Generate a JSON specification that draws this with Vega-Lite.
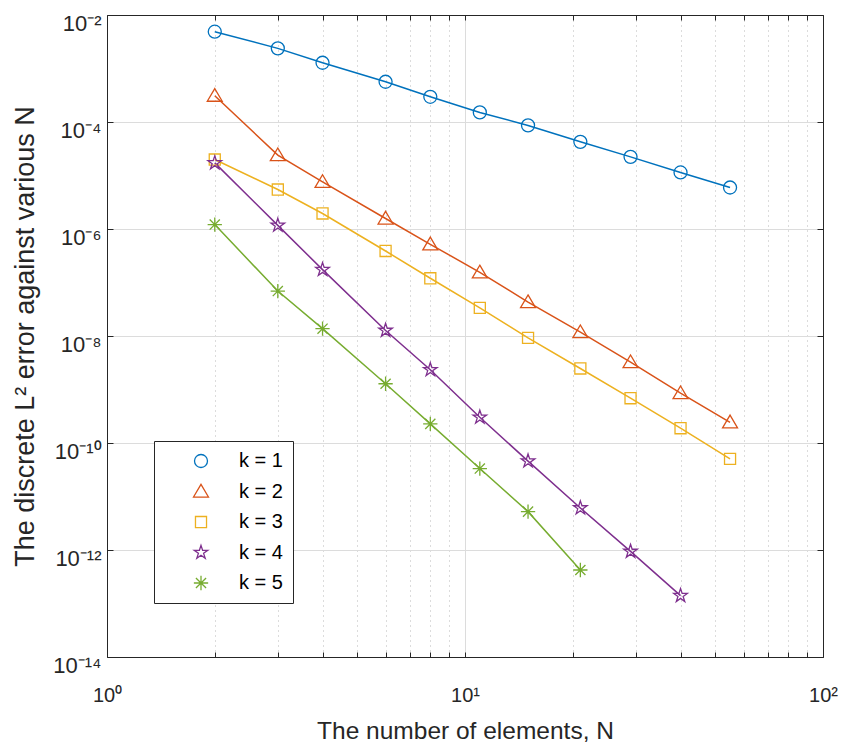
{
  "$schema": "https://vega.github.io/schema/vega-lite/v6.json",
  "width": 716,
  "height": 642,
  "autosize": {"type": "none"},
  "padding": {"left": 107, "top": 15, "right": 19, "bottom": 89},
  "background": "white",
  "config": {
    "view": {"stroke": null},
    "font": "Liberation Sans",
    "axis": {"domainColor": "#262626", "domainWidth": 1, "tickColor": "#262626", "tickWidth": 1, "labelColor": "#262626", "titleColor": "#262626", "labelFont": "Liberation Sans", "titleFont": "Liberation Sans", "titleFontWeight": "normal"}
  },
  "data": {
    "values": [
      {"k": "k = 1", "N": 2, "err": 4.87e-3},
      {"k": "k = 1", "N": 3, "err": 2.38e-3},
      {"k": "k = 1", "N": 4, "err": 1.28e-3},
      {"k": "k = 1", "N": 6, "err": 5.65e-4},
      {"k": "k = 1", "N": 8, "err": 2.96e-4},
      {"k": "k = 1", "N": 11, "err": 1.51e-4},
      {"k": "k = 1", "N": 15, "err": 8.63e-5},
      {"k": "k = 1", "N": 21, "err": 4.26e-5},
      {"k": "k = 1", "N": 29, "err": 2.23e-5},
      {"k": "k = 1", "N": 40, "err": 1.14e-5},
      {"k": "k = 1", "N": 55, "err": 5.96e-6},
      {"k": "k = 2", "N": 2, "err": 3.1e-4},
      {"k": "k = 2", "N": 3, "err": 2.4e-5},
      {"k": "k = 2", "N": 4, "err": 7.59e-6},
      {"k": "k = 2", "N": 6, "err": 1.57e-6},
      {"k": "k = 2", "N": 8, "err": 5.18e-7},
      {"k": "k = 2", "N": 11, "err": 1.55e-7},
      {"k": "k = 2", "N": 15, "err": 4.31e-8},
      {"k": "k = 2", "N": 21, "err": 1.18e-8},
      {"k": "k = 2", "N": 29, "err": 3.24e-9},
      {"k": "k = 2", "N": 40, "err": 8.53e-10},
      {"k": "k = 2", "N": 55, "err": 2.44e-10},
      {"k": "k = 3", "N": 2, "err": 1.99e-5},
      {"k": "k = 3", "N": 3, "err": 5.47e-6},
      {"k": "k = 3", "N": 4, "err": 1.95e-6},
      {"k": "k = 3", "N": 6, "err": 3.88e-7},
      {"k": "k = 3", "N": 8, "err": 1.2e-7},
      {"k": "k = 3", "N": 11, "err": 3.36e-8},
      {"k": "k = 3", "N": 15, "err": 9.22e-9},
      {"k": "k = 3", "N": 21, "err": 2.47e-9},
      {"k": "k = 3", "N": 29, "err": 6.87e-10},
      {"k": "k = 3", "N": 40, "err": 1.89e-10},
      {"k": "k = 3", "N": 55, "err": 5.05e-11},
      {"k": "k = 4", "N": 2, "err": 1.72e-5},
      {"k": "k = 4", "N": 3, "err": 1.17e-6},
      {"k": "k = 4", "N": 4, "err": 1.74e-7},
      {"k": "k = 4", "N": 6, "err": 1.27e-8},
      {"k": "k = 4", "N": 8, "err": 2.34e-9},
      {"k": "k = 4", "N": 11, "err": 3.03e-10},
      {"k": "k = 4", "N": 15, "err": 4.59e-11},
      {"k": "k = 4", "N": 21, "err": 6.1e-12},
      {"k": "k = 4", "N": 29, "err": 9.4e-13},
      {"k": "k = 4", "N": 40, "err": 1.4e-13},
      {"k": "k = 5", "N": 2, "err": 1.21e-6},
      {"k": "k = 5", "N": 3, "err": 6.92e-8},
      {"k": "k = 5", "N": 4, "err": 1.37e-8},
      {"k": "k = 5", "N": 6, "err": 1.28e-9},
      {"k": "k = 5", "N": 8, "err": 2.28e-10},
      {"k": "k = 5", "N": 11, "err": 3.33e-11},
      {"k": "k = 5", "N": 15, "err": 5.21e-12},
      {"k": "k = 5", "N": 21, "err": 4.23e-13}
    ]
  },
  "layer": [
    {
      "mark": {"type": "line", "strokeWidth": 1.5},
      "encoding": {
        "x": {"field": "N", "type": "quantitative", "scale": {"type": "log", "domain": [1, 100], "nice": false},
          "axis": {"orient": "top", "values": [1,2,3,4,5,6,7,8,9,10,20,30,40,50,60,70,80,90,100], "labels": false, "grid": false, "domain": true, "ticks": true, "tickSize": -5, "title": null}},
        "y": {"field": "err", "type": "quantitative", "scale": {"type": "log", "domain": [1e-14, 1e-2], "nice": false},
          "axis": {"orient": "right", "values": [1e-14, 1e-12, 1e-10, 1e-8, 1e-6, 1e-4, 1e-2], "labels": false, "grid": false, "domain": true, "ticks": true, "tickSize": -6, "title": null}},
        "color": {"field": "k", "type": "nominal",
          "scale": {"domain": ["k = 1", "k = 2", "k = 3", "k = 4", "k = 5"], "range": ["#0072BD", "#D95319", "#EDB120", "#7E2F8E", "#77AC30"]},
          "legend": {
            "orient": "none", "legendX": 47, "legendY": 426, "title": null, "direction": "vertical",
            "strokeColor": "#262626", "fillColor": "white", "padding": 10,
            "labelFont": "Liberation Sans", "labelFontSize": 20, "labelColor": "#000000",
            "symbolSize": 169, "symbolStrokeWidth": 1.3, "symbolOffset": 27, "labelOffset": 28, "rowPadding": 10.5
          }
        }
      }
    },
    {
      "mark": {"type": "point", "filled": false, "size": 169, "strokeWidth": 1.3, "opacity": 1},
      "encoding": {
        "x": {"field": "N", "type": "quantitative", "scale": {"type": "log", "domain": [1, 100], "nice": false},
          "axis": {"orient": "bottom", "values": [1,2,3,4,5,6,7,8,9,10,20,30,40,50,60,70,80,90,100],
            "labelExpr": "datum.value == 1 ? '10⁰' : datum.value == 10 ? '10¹' : datum.value == 100 ? '10²' : ''",
            "labelFontSize": 20, "labelPadding": 33, "labelBaseline": "top", "labelFlush": false,
            "grid": true,
            "gridColor": {"condition": {"test": "datum.value == 10", "value": "#dcdcdc"}, "value": "#b8b8b8"},
            "gridDash": {"condition": {"test": "datum.value == 10", "value": []}, "value": [1, 4]},
            "gridOpacity": {"condition": {"test": "datum.value == 1 || datum.value == 100", "value": 0}, "value": 1},
            "domain": true, "ticks": true, "tickSize": -5,
            "title": "The number of elements, N", "titleFontSize": 24.5, "titleY": 74, "titleBaseline": "middle"}},
        "y": {"field": "err", "type": "quantitative", "scale": {"type": "log", "domain": [1e-14, 1e-2], "nice": false},
          "axis": {"orient": "left", "values": [1e-14, 1e-12, 1e-10, 1e-8, 1e-6, 1e-4, 1e-2],
            "labelExpr": "datum.value < 1e-13 ? '10⁻¹⁴' : datum.value < 1e-11 ? '10⁻¹²' : datum.value < 1e-9 ? '10⁻¹⁰' : datum.value < 1e-7 ? '10⁻⁸' : datum.value < 1e-5 ? '10⁻⁶' : datum.value < 1e-3 ? '10⁻⁴' : '10⁻²'",
            "labelFontSize": 22, "labelPadding": 12, "labelOffset": 8, "labelBaseline": "middle", "labelFlush": false,
            "grid": true, "gridColor": "#dcdcdc",
            "gridOpacity": {"condition": {"test": "datum.value < 1e-13 || datum.value > 1e-3", "value": 0}, "value": 1},
            "domain": true, "ticks": true, "tickSize": -6,
            "title": "The discrete L² error against various N", "titleFontSize": 27, "titleX": -82, "titleBaseline": "middle"}},
        "color": {"field": "k", "type": "nominal",
          "scale": {"domain": ["k = 1", "k = 2", "k = 3", "k = 4", "k = 5"], "range": ["#0072BD", "#D95319", "#EDB120", "#7E2F8E", "#77AC30"]}},
        "shape": {"field": "k", "type": "nominal", "legend": null,
          "scale": {"domain": ["k = 1", "k = 2", "k = 3", "k = 4", "k = 5"],
            "range": [
              "M1,0A1,1,0,1,1,-1,0A1,1,0,1,1,1,0Z",
              "M0,-1.1L1.15,0.85L-1.15,0.85Z",
              "M-0.85,-0.85L0.85,-0.85L0.85,0.85L-0.85,0.85Z",
              "M0,-1.1L0.247,-0.34L1.046,-0.34L0.399,0.13L0.647,0.89L0,0.42L-0.647,0.89L-0.399,0.13L-1.046,-0.34L-0.247,-0.34Z",
              "M0,-1.1L0,1.1M-1.1,0L1.1,0M-0.78,-0.78L0.78,0.78M-0.78,0.78L0.78,-0.78"
            ]}}
      }
    }
  ],
  "resolve": {"axis": {"x": "independent", "y": "independent"}}
}
